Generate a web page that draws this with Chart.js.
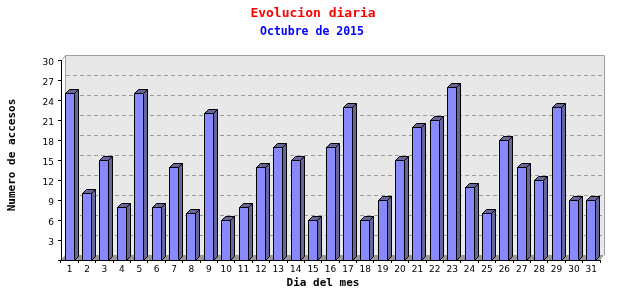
<!DOCTYPE html>
<html>
<head>
<meta charset="utf-8">
<script src="https://cdn.jsdelivr.net/npm/chart.js@4/dist/chart.umd.min.js"></script>
<style>
  html, body { margin: 0; padding: 0; background: #ffffff; }
  #wrap { width: 640px; height: 300px; }
</style>
</head>
<body>
<div id="wrap"><canvas id="c" width="640" height="300"></canvas></div>
<script>
// ---- data ----
const chartTitle = 'Evolucion diaria';
const chartSubtitle = 'Octubre de 2015';
const xTitle = 'Dia del mes';
const yTitle = 'Numero de accesos';
const days = ['1','2','3','4','5','6','7','8','9','10','11','12','13','14','15','16',
              '17','18','19','20','21','22','23','24','25','26','27','28','29','30','31'];
const visits = [25,10,15,8,25,8,14,7,22,6,8,14,17,15,6,17,23,6,9,15,20,21,26,11,7,18,14,12,23,9,9];
const yTicks = [3,6,9,12,15,18,21,24,27,30];

// ---- styling ----
const DX = 4, DY = 5;          // wall depth
const BDX = 4, BDY = 4;        // bar depth
const FRONT = '#8888ff';
const SIDE = '#666699';

const threeD = {
  id: 'threeD',
  beforeDraw(chart) {
    const {ctx, chartArea: a, scales} = chart;
    const L = a.left, R = a.right, T = a.top, B = a.bottom;
    ctx.save();
    // back wall
    ctx.fillStyle = '#e8e8e8';
    ctx.fillRect(L + DX, T - DY, R - L, B - T);
    // dashed grid on back wall
    ctx.strokeStyle = '#999999';
    ctx.lineWidth = 1;
    ctx.setLineDash([4, 3]);
    yTicks.forEach(v => {
      if (v >= 30) return;
      const y = Math.round(scales.y.getPixelForValue(v)) - DY + 0.5;
      ctx.beginPath();
      ctx.moveTo(L + DX + 1, y);
      ctx.lineTo(R + DX, y);
      ctx.stroke();
    });
    ctx.setLineDash([]);
    // wall border
    ctx.strokeStyle = '#a0a0a0';
    ctx.beginPath();
    ctx.moveTo(L + DX + 0.5, B - DY);
    ctx.lineTo(L + DX + 0.5, T - DY + 0.5);
    ctx.lineTo(R + DX + 0.5, T - DY + 0.5);
    ctx.lineTo(R + DX + 0.5, B - DY);
    ctx.stroke();
    // left side wall top diagonal
    ctx.beginPath();
    ctx.moveTo(L + 0.5, T + 0.5);
    ctx.lineTo(L + DX + 0.5, T - DY + 0.5);
    ctx.stroke();
    // floor
    ctx.fillStyle = '#999999';
    ctx.beginPath();
    ctx.moveTo(L, B);
    ctx.lineTo(L + DX, B - DY);
    ctx.lineTo(R + DX, B - DY);
    ctx.lineTo(R, B);
    ctx.closePath();
    ctx.fill();
    ctx.restore();
  },
  afterDatasetsDraw(chart) {
    const {ctx} = chart;
    const meta = chart.getDatasetMeta(0);
    ctx.save();
    ctx.lineWidth = 1;
    ctx.strokeStyle = '#000000';
    meta.data.forEach(el => {
      const cx = Math.round(el.x);
      const x0 = cx - 5 + 0.5, x1 = cx + 4 + 0.5;
      const yt = Math.round(el.y) + 0.5, yb = Math.round(el.base) + 0.5;
      // front
      ctx.fillStyle = FRONT;
      ctx.beginPath();
      ctx.rect(x0, yt, x1 - x0, yb - yt);
      ctx.fill(); ctx.stroke();
      // side
      ctx.fillStyle = SIDE;
      ctx.beginPath();
      ctx.moveTo(x1, yt);
      ctx.lineTo(x1 + BDX, yt - BDY);
      ctx.lineTo(x1 + BDX, yb - BDY);
      ctx.lineTo(x1, yb);
      ctx.closePath();
      ctx.fill(); ctx.stroke();
      // top
      ctx.beginPath();
      ctx.moveTo(x0, yt);
      ctx.lineTo(x0 + BDX, yt - BDY);
      ctx.lineTo(x1 + BDX, yt - BDY);
      ctx.lineTo(x1, yt);
      ctx.closePath();
      ctx.fill(); ctx.stroke();
    });
    ctx.restore();
  },
  afterDraw(chart) {
    const {ctx} = chart;
    ctx.save();
    ctx.textAlign = 'center';
    ctx.textBaseline = 'middle';
    ctx.fillStyle = '#ff0000';
    ctx.font = 'bold 13px "DejaVu Sans Mono"';
    ctx.fillText(chartTitle, 313, 14);
    ctx.fillStyle = '#0000ff';
    ctx.font = 'bold 11.5px "DejaVu Sans Mono"';
    ctx.fillText(chartSubtitle, 312, 32);
    ctx.fillStyle = '#000000';
    ctx.font = 'bold 11px "DejaVu Sans Mono"';
    ctx.fillText(xTitle, 323, 283);
    ctx.translate(12, 155);
    ctx.rotate(-Math.PI / 2);
    ctx.fillText(yTitle, 0, 0);
    ctx.restore();
  }
};

new Chart(document.getElementById('c'), {
  type: 'bar',
  data: {
    labels: days,
    datasets: [{
      data: visits,
      backgroundColor: 'rgba(0,0,0,0)',
      borderWidth: 0
    }]
  },
  options: {
    responsive: false,
    animation: false,
    devicePixelRatio: 1,
    layout: { padding: { left: 0, right: 40, top: 60, bottom: 0 } },
    plugins: { legend: { display: false }, tooltip: { enabled: false }, title: { display: false } },
    scales: {
      x: {
        afterFit: s => { s.height = 40; },
        border: { display: true, color: '#000000' },
        grid: { offset: true, drawOnChartArea: false, drawTicks: true, tickLength: 3, tickColor: '#000000' },
        ticks: { color: '#000000', font: { family: 'DejaVu Sans', size: 9 }, padding: 1, autoSkip: false, maxRotation: 0 }
      },
      y: {
        min: 0, max: 30,
        afterFit: s => { s.width = 61; },
        afterBuildTicks: s => { s.ticks = [0].concat(yTicks).map(v => ({ value: v })); },
        border: { display: true, color: '#000000' },
        grid: { drawOnChartArea: false, drawTicks: true, tickLength: 3, tickColor: '#000000' },
        ticks: {
          color: '#000000', font: { family: 'DejaVu Sans', size: 9 }, padding: 4, labelOffset: 3,
          callback: v => (v === 0 ? '' : String(v))
        }
      }
    }
  },
  plugins: [threeD]
});
</script>
</body>
</html>
